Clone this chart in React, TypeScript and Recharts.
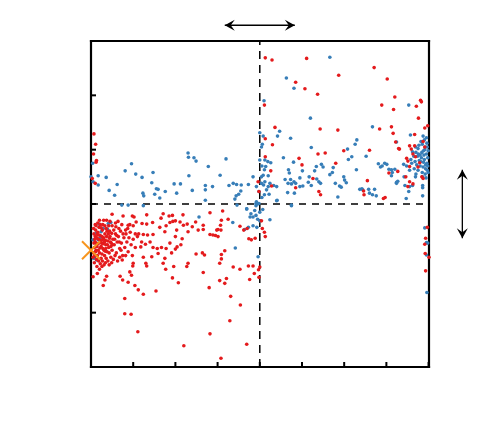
import React from "react"
import {
  ScatterChart,
  Scatter,
  XAxis,
  YAxis,
  ReferenceLine,
} from "recharts"

// tick positions (no labels shown in the figure)
const xTicks = [0, 1, 2, 3, 4, 5, 6, 7, 8]
const yTicks = [0, 1, 2, 3, 4, 5, 6]

const xSplit = 4
const ySplit = 3

// orange marker on the left edge
const marker = [{ x: 0, y: 2.15 }]

// double-headed arrows outside the frame
const topArrow = [{ x: 3.17, y: 6.29 }, { x: 4.83, y: 6.29 }]
const rightArrow = [{ x: 8.8, y: 3.63 }, { x: 8.8, y: 2.37 }]

type Pt = [number, number]

const blueLeft: Pt[] = [
  [0.04, 3.75], [0.0, 3.5], [0.05, 3.41], [0.17, 3.52], [0.17, 3.35], [0.36, 3.49],
  [0.43, 3.25], [0.56, 3.16], [0.62, 3.36], [0.81, 3.61], [0.96, 3.74], [0.73, 2.98],
  [0.88, 2.98], [1.06, 3.55], [1.21, 3.49], [1.23, 3.2], [1.25, 3.15], [1.24, 2.97],
  [1.44, 3.39], [1.47, 3.58], [1.51, 3.18], [1.55, 3.28], [1.59, 3.27], [1.63, 3.11],
  [1.76, 3.23], [1.97, 3.37], [2.12, 3.37], [2.03, 3.2], [2.3, 3.94], [2.31, 3.86],
  [2.32, 3.52], [2.4, 3.25], [2.44, 3.85], [2.49, 3.79], [2.71, 3.34], [2.71, 3.26],
  [2.71, 3.07], [2.78, 3.69], [2.88, 3.32], [3.06, 3.53], [3.2, 3.83], [3.27, 3.34],
  [3.37, 3.38], [3.45, 3.36], [3.41, 3.09], [3.5, 3.18], [3.55, 3.24], [3.56, 3.35],
  [3.69, 2.91], [3.73, 3.36], [3.84, 3.5], [3.95, 3.0], [4.04, 4.05], [3.44, 3.15],
  [3.92, 3.32], [3.98, 3.23], [4.0, 3.81], [4.04, 3.5], [3.92, 3.04], [4.0, 4.31],
]

const blueMid: Pt[] = [
  [3.46, 2.98], [3.69, 2.91], [3.91, 2.97], [3.98, 3.01], [3.88, 2.88], [3.79, 2.82],
  [3.77, 2.76], [3.84, 2.76], [3.91, 2.79], [4.0, 2.85], [3.95, 2.72], [4.07, 2.9],
  [4.0, 2.69], [3.36, 2.66], [3.84, 2.6], [3.73, 2.57], [3.64, 2.53], [3.93, 2.57],
  [4.24, 2.71], [3.42, 2.19], [2.56, 2.76], [3.96, 2.03], [4.4, 3.06], [4.75, 2.97],
  [0.47, 2.66], [0.39, 2.54], [0.24, 2.49], [0.21, 2.37], [0.17, 2.34], [0.1, 2.12],
  [0.07, 2.0], [0.13, 1.97], [0.19, 2.63], [0.29, 2.55], [0.41, 2.64], [0.12, 2.46],
  [0.05, 2.34],
]

const blueRight: Pt[] = [
  [5.66, 5.7], [4.63, 5.32], [4.81, 5.13], [4.1, 4.9], [5.2, 4.58], [4.47, 4.34],
  [4.42, 4.25], [4.73, 4.21], [4.08, 4.25], [4.06, 4.1], [6.67, 4.42], [7.53, 4.82],
  [6.3, 4.18], [6.26, 4.1], [6.08, 4.01], [5.22, 4.04], [6.52, 3.88], [6.18, 3.87],
  [6.1, 3.82], [4.56, 3.85], [4.8, 3.77], [4.12, 3.81], [4.19, 3.78], [4.26, 3.76],
  [4.14, 3.69], [4.05, 3.7], [4.11, 3.63], [4.68, 3.63], [4.7, 3.57], [4.6, 3.45],
  [4.73, 3.45], [4.81, 3.41], [4.95, 3.48], [5.01, 3.61], [5.17, 3.5], [5.15, 3.4],
  [5.22, 3.34], [5.02, 3.33], [4.95, 3.32], [4.85, 3.38], [4.75, 3.37], [4.67, 3.38],
  [5.34, 3.69], [5.3, 3.61], [5.46, 3.73], [5.5, 3.68], [5.35, 3.46], [5.4, 3.41],
  [5.44, 3.38], [5.66, 3.54], [5.74, 3.67], [5.72, 3.58], [5.79, 3.38], [5.89, 3.33],
  [5.93, 3.31], [5.99, 3.5], [6.01, 3.44], [6.05, 3.39], [6.29, 3.63], [6.37, 3.27],
  [6.42, 3.28], [6.44, 3.26], [6.58, 3.27], [6.6, 3.2], [6.72, 3.27], [6.67, 3.17],
  [6.76, 3.15], [6.81, 3.74], [6.86, 3.68], [6.96, 3.75], [7.01, 3.73], [7.06, 3.64],
  [7.12, 3.63], [7.14, 3.58], [7.24, 3.38], [7.27, 3.42], [7.41, 3.73], [7.42, 3.5],
  [7.47, 3.1], [7.53, 3.23], [7.55, 3.32], [7.69, 3.5], [7.86, 3.34], [4.82, 3.2],
  [4.66, 3.21], [4.41, 3.07], [4.22, 3.18], [4.11, 3.17], [4.05, 3.12], [4.16, 3.26],
  [4.2, 3.32], [4.09, 3.35], [4.04, 3.38], [4.12, 3.41], [4.24, 3.38], [4.33, 3.34],
  [4.4, 3.32], [4.08, 3.53], [4.2, 3.52], [5.85, 3.13], [4.75, 2.98], [3.91, 3.01],
  [7.24, 4.14], [7.57, 4.27], [6.9, 3.7], [7.2, 3.64], [7.12, 3.52], [7.24, 3.4],
  [7.44, 3.34], [7.62, 3.34], [7.86, 3.3], [7.86, 3.15],
  [7.91, 2.56], [7.95, 2.29], [7.98, 2.28], [7.95, 2.06], [7.96, 1.37],
]

const blueEdge: Pt[] = [
  [7.7, 3.95], [7.75, 4.02], [7.8, 3.9], [7.85, 4.1], [7.88, 3.98], [7.92, 4.05],
  [7.95, 3.92], [7.78, 3.8], [7.83, 3.85], [7.9, 3.82], [7.96, 3.75], [7.72, 3.72],
  [7.8, 3.7], [7.87, 3.68], [7.93, 3.65], [7.98, 3.85], [7.65, 3.88], [7.68, 3.78],
  [7.75, 3.62], [7.85, 3.58], [7.92, 3.55], [7.97, 3.62], [7.82, 4.15], [7.9, 4.18],
  [7.96, 4.12], [7.77, 4.08], [7.93, 3.72], [7.88, 3.77], [7.84, 3.95], [7.99, 3.98],
  [7.74, 3.88], [7.62, 3.96], [7.6, 3.75], [7.66, 3.65], [7.7, 3.55], [7.94, 3.48],
  [7.86, 3.5], [7.98, 3.7], [7.89, 3.9], [7.81, 3.78], [7.91, 4.0], [7.97, 4.05],
  [7.76, 3.92], [7.69, 4.05], [7.58, 3.82], [7.99, 3.58], [7.95, 4.22], [7.87, 4.25],
  [7.55, 3.62], [7.48, 3.7],
]

const redCluster: Pt[] = [
  [0.1, 2.3], [0.14, 2.22], [0.18, 2.35], [0.12, 2.15], [0.2, 2.1], [0.25, 2.28],
  [0.22, 2.42], [0.16, 2.48], [0.3, 2.38], [0.28, 2.18], [0.35, 2.25], [0.33, 2.45],
  [0.4, 2.32], [0.38, 2.12], [0.45, 2.4], [0.42, 2.2], [0.48, 2.28], [0.15, 2.05],
  [0.24, 2.0], [0.32, 2.05], [0.1, 2.4], [0.08, 2.2], [0.06, 2.1], [0.11, 2.52],
  [0.19, 2.57], [0.27, 2.52], [0.36, 2.55], [0.44, 2.5], [0.5, 2.15], [0.52, 2.35],
  [0.55, 2.25], [0.58, 2.45], [0.6, 2.1], [0.62, 2.3], [0.65, 2.4], [0.68, 2.18],
  [0.7, 2.5], [0.72, 2.28], [0.75, 2.05], [0.78, 2.38], [0.14, 2.38], [0.17, 2.27],
  [0.21, 2.19], [0.23, 2.33], [0.26, 2.4], [0.29, 2.27], [0.31, 2.15], [0.34, 2.33],
  [0.37, 2.4], [0.39, 2.25], [0.41, 2.45], [0.43, 2.1], [0.46, 2.3], [0.13, 2.27],
  [0.09, 2.35], [0.07, 2.45], [0.12, 2.6], [0.16, 2.65], [0.22, 2.62], [0.28, 2.62],
  [0.2, 2.7], [0.3, 2.7], [0.09, 2.05], [0.13, 1.98], [0.18, 1.95], [0.22, 1.9],
  [0.27, 1.95], [0.31, 1.88], [0.36, 2.0], [0.4, 1.95], [0.47, 2.02], [0.53, 1.98],
  [0.57, 2.05], [0.63, 1.95], [0.17, 2.15], [0.26, 2.08], [0.34, 2.13], [0.44, 2.37],
  [0.49, 2.46], [0.54, 2.52], [0.59, 2.58], [0.66, 2.55], [0.73, 2.62], [0.8, 2.2],
  [0.83, 2.45], [0.85, 2.3], [0.88, 2.12], [0.9, 2.38], [0.93, 2.48], [0.95, 2.25],
  [0.07, 2.28], [0.11, 2.12], [0.15, 2.44], [0.19, 2.43], [0.24, 2.22], [0.27, 2.34],
  [0.32, 2.3], [0.35, 2.18], [0.38, 2.5], [0.47, 2.22], [0.51, 2.25], [0.56, 2.35],
  [0.61, 2.42], [0.67, 2.3], [0.71, 2.15], [0.76, 2.45], [0.05, 2.02], [0.08, 1.92],
  [0.14, 1.85], [0.2, 1.8], [0.1, 2.62], [0.06, 2.55], [0.24, 2.56], [0.33, 2.6],
  [0.42, 2.6], [0.5, 2.6], [0.58, 2.65], [0.64, 2.68], [0.45, 2.68], [0.37, 2.7],
  [0.26, 1.85], [0.34, 1.92], [0.43, 1.88], [0.49, 1.92], [0.68, 2.02], [0.74, 1.97],
  [0.82, 2.05], [0.87, 2.55], [0.92, 2.62], [1.0, 2.35], [1.05, 2.2], [1.1, 2.4],
  [0.98, 2.05],
]

const redLeft: Pt[] = [
  [0.07, 4.29], [0.11, 4.1], [0.06, 3.92], [0.13, 3.8], [0.12, 3.77], [0.03, 3.47],
  [0.1, 3.38], [3.96, 3.41], [3.98, 3.23],
  [0.5, 2.81], [0.76, 2.78], [0.98, 2.78], [1.02, 2.76], [1.32, 2.8], [1.71, 2.82],
  [1.85, 2.78], [1.66, 2.74], [1.46, 2.66], [1.32, 2.63], [1.21, 2.64], [1.07, 2.67],
  [1.0, 2.6], [0.88, 2.61], [0.82, 2.52], [1.05, 2.45], [1.13, 2.45], [1.24, 2.44],
  [1.34, 2.43], [1.47, 2.44], [1.63, 2.57], [1.78, 2.6], [1.87, 2.66], [1.75, 2.49],
  [1.2, 2.3], [1.18, 2.21], [1.29, 2.26], [1.4, 2.3], [1.47, 2.2], [1.57, 2.18],
  [1.67, 2.2], [1.78, 2.18], [1.87, 2.28], [1.44, 2.03], [1.59, 2.09], [1.75, 2.0],
  [1.24, 2.02], [1.0, 1.91], [0.99, 1.86], [1.3, 1.91], [1.32, 1.86], [1.71, 1.91],
  [1.77, 1.8], [0.92, 1.75], [0.96, 1.69], [0.69, 1.67], [0.75, 1.6], [0.88, 1.56],
  [1.04, 1.5], [1.12, 1.42], [1.24, 1.34], [1.54, 1.4], [0.37, 1.67], [0.33, 1.6],
  [0.29, 1.5], [0.05, 1.66], [0.15, 1.72], [0.8, 1.26], [0.8, 0.98], [0.95, 0.97],
  [1.11, 0.65],
]

const redMid: Pt[] = [
  [1.93, 2.79], [2.18, 2.8], [1.94, 2.68], [2.0, 2.69], [2.11, 2.67], [2.19, 2.61],
  [2.28, 2.63], [2.4, 2.58], [2.48, 2.67], [2.66, 2.61], [2.82, 2.84], [3.12, 2.87],
  [3.09, 2.7], [3.07, 2.61], [3.01, 2.53], [3.08, 2.52], [2.98, 2.52], [3.25, 2.72],
  [3.53, 2.59], [4.04, 2.69], [3.62, 2.52], [3.7, 2.55], [2.03, 2.52], [2.0, 2.4],
  [2.16, 2.36], [2.3, 2.49], [2.54, 2.52], [2.66, 2.53], [2.82, 2.44], [2.89, 2.43],
  [2.95, 2.42], [3.01, 2.4], [2.13, 2.25], [2.04, 2.21], [2.0, 2.17], [1.91, 2.1],
  [2.49, 2.08], [2.64, 2.1], [2.69, 2.06], [3.17, 2.14], [3.09, 2.07], [3.09, 1.99],
  [3.05, 1.91], [2.3, 1.91], [2.27, 1.85], [1.96, 1.85], [2.66, 1.74], [3.37, 1.84],
  [3.53, 1.8], [3.73, 1.86], [3.84, 1.86], [4.0, 1.84], [3.8, 2.34], [3.74, 2.36],
  [3.89, 2.37], [3.21, 1.63], [3.17, 1.54], [3.05, 1.59], [1.93, 1.64], [2.07, 1.55],
  [2.8, 1.46], [3.76, 1.61], [3.98, 1.65], [4.11, 2.48], [4.13, 2.4], [4.06, 2.55],
  [3.87, 1.72], [2.2, 0.39], [2.82, 0.61], [3.29, 0.85], [3.54, 1.14], [3.08, 0.16],
  [3.69, 0.42], [3.31, 1.3], [3.97, 1.79],
]

const redRight: Pt[] = [
  [4.13, 5.69], [4.29, 5.65], [5.11, 5.68], [4.85, 5.24], [5.07, 5.12], [5.37, 5.02],
  [5.87, 5.37], [6.71, 5.51], [7.02, 5.3], [4.11, 4.82], [7.2, 4.97], [6.89, 4.82],
  [7.17, 4.74], [7.71, 4.8], [7.81, 4.91], [7.83, 4.88], [7.76, 4.58], [7.91, 4.4],
  [4.36, 4.41], [4.13, 4.2], [4.3, 4.09], [5.43, 4.38], [5.85, 4.36], [6.84, 4.38],
  [7.12, 4.42], [7.16, 4.3], [7.22, 4.14], [7.29, 4.02], [6.6, 3.99], [5.99, 3.98],
  [5.55, 3.94], [5.38, 3.92], [4.93, 3.84], [5.0, 3.72], [5.8, 3.75], [4.13, 3.87],
  [4.26, 3.61], [4.28, 3.33], [4.85, 3.3], [5.26, 3.47], [5.4, 3.23], [5.44, 3.17],
  [6.55, 3.43], [6.46, 3.24], [6.47, 3.17], [6.97, 3.12], [7.06, 3.57], [7.48, 3.84],
  [7.55, 4.07], [7.67, 4.07], [7.59, 4.01], [7.63, 3.92], [7.69, 3.87], [7.51, 3.79],
  [7.55, 3.69], [7.75, 3.68], [7.87, 4.15], [7.91, 4.05], [7.84, 3.5], [7.46, 3.5],
  [7.55, 3.41], [7.63, 3.37], [7.51, 3.32], [7.87, 3.47], [7.67, 4.28], [7.31, 4.01],
  [7.79, 3.76], [7.27, 3.6], [6.93, 3.1], [7.98, 4.44],
  [7.97, 2.57], [7.93, 2.37], [7.91, 2.26], [7.92, 2.09], [8.01, 2.02], [7.93, 1.77],
]

const toPoints = (pts: Pt[]) => pts.map(([x, y]) => ({ x, y }))

const blueData = toPoints([...blueLeft, ...blueMid, ...blueRight, ...blueEdge])
const redData = toPoints([...redCluster, ...redLeft, ...redMid, ...redRight])

const BLUE = "#377eb8"
const RED = "#e41a1c"
const ORANGE = "#f7941d"

const dot = (color: string) => (p: any) => (
  <circle cx={p.cx} cy={p.cy} r={1.8} fill={color} />
)

const cross = (p: any) => {
  const s = 9
  return (
    <g stroke={ORANGE} strokeWidth={2}>
      <line x1={p.cx - s} y1={p.cy - s} x2={p.cx + s} y2={p.cy + s} />
      <line x1={p.cx - s} y1={p.cy + s} x2={p.cx + s} y2={p.cy - s} />
    </g>
  )
}

// line with a filled head at both ends
const doubleArrow = (p: any) => {
  const { x1, y1, x2, y2 } = p
  const ang = Math.atan2(y2 - y1, x2 - x1)
  const head = (x: number, y: number, a: number) => {
    const L = 10
    const W = 5.5
    const c = Math.cos(a)
    const s = Math.sin(a)
    const bx = x - L * c
    const by = y - L * s
    const nx = x - 0.6 * L * c
    const ny = y - 0.6 * L * s
    return `M${x},${y} L${bx - W * s},${by + W * c} L${nx},${ny} L${bx + W * s},${by - W * c} Z`
  }
  return (
    <g>
      <line x1={x1} y1={y1} x2={x2} y2={y2} stroke="#000" strokeWidth={1.3} />
      <path d={head(x2, y2, ang)} fill="#000" />
      <path d={head(x1, y1, ang + Math.PI)} fill="#000" />
    </g>
  )
}

// tick marks only, no labels
const noLabel = () => <g />

const frame = { stroke: "#000", strokeWidth: 2.2, strokeLinecap: "square" as const }
const tickStyle = { stroke: "#000", strokeWidth: 2 }

export default function App() {
  return (
    <ScatterChart
      width={464}
      height={420}
      margin={{ top: 33, right: 43, bottom: 61, left: 83 }}
    >
      <XAxis
        type="number"
        dataKey="x"
        domain={[0, 8]}
        ticks={xTicks}
        mirror
        tick={noLabel}
        tickSize={5}
        tickLine={tickStyle}
        axisLine={frame}
      />
      <XAxis
        xAxisId="top"
        orientation="top"
        type="number"
        domain={[0, 8]}
        ticks={xTicks}
        mirror
        tick={noLabel}
        tickSize={5}
        tickLine={tickStyle}
        axisLine={frame}
      />
      <YAxis
        type="number"
        dataKey="y"
        domain={[0, 6]}
        ticks={yTicks}
        mirror
        tick={noLabel}
        tickSize={5}
        tickLine={tickStyle}
        axisLine={frame}
      />
      <YAxis
        yAxisId="right"
        orientation="right"
        type="number"
        domain={[0, 6]}
        ticks={yTicks}
        mirror
        tick={noLabel}
        tickSize={5}
        tickLine={tickStyle}
        axisLine={frame}
      />
      <ReferenceLine x={xSplit} stroke="#000" strokeWidth={1.5} strokeDasharray="8 6" />
      <ReferenceLine y={ySplit} stroke="#000" strokeWidth={1.5} strokeDasharray="7 6" />
      <Scatter data={blueData} shape={dot(BLUE)} isAnimationActive={false} />
      <Scatter data={redData} shape={dot(RED)} isAnimationActive={false} />
      <Scatter data={marker} shape={cross} isAnimationActive={false} />
      <ReferenceLine segment={topArrow} ifOverflow="visible" shape={doubleArrow} />
      <ReferenceLine segment={rightArrow} ifOverflow="visible" shape={doubleArrow} />
    </ScatterChart>
  )
}
